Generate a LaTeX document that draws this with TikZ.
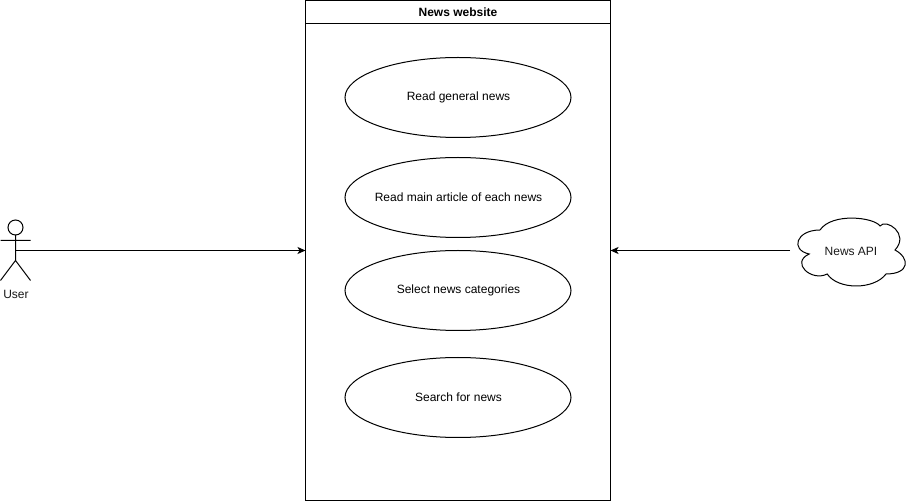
\documentclass[tikz,border=0pt]{standalone}
\usepackage{fontspec}
\setmainfont{Liberation Sans}
\usetikzlibrary{shapes.geometric,arrows.meta,positioning}
\tikzset{
  usecase/.style={draw,ellipse,minimum width=226pt,minimum height=80pt,inner sep=0pt,font=\fontsize{12pt}{14pt}\selectfont},
  ghost/.style={minimum width=#1,inner sep=0pt,outer sep=0pt},
  flow/.style={-{Stealth[length=8pt,width=7pt,inset=2pt]}},
  lbl/.style={font=\fontsize{12pt}{14pt}\selectfont,inner sep=0pt,text=black!90},
}
\newcommand{\uclabel}[1]{\raisebox{-1.4pt}{\hspace{1pt}\makebox[0pt]{#1}}}
\begin{document}
\begin{tikzpicture}[x=1pt,y=-1pt,line width=1pt]
\useasboundingbox[fill=white] (0,0) rectangle (911,502);
% system boundary
\node[draw,minimum width=305pt,minimum height=500pt,inner sep=0pt,outer sep=0pt,anchor=north west] (sys) at (305.5,0.5) {};
\node[draw,minimum width=305pt,minimum height=23pt,inner sep=0pt,outer sep=0pt,anchor=north west,font=\bfseries\fontsize{12pt}{14pt}\selectfont] (title) at (305.5,0.5) {News website};
% use cases
\node[usecase] (u1) at (458,97.5) {\uclabel{Read general news}};
\node[usecase] (u2) at (458,197.5) {\uclabel{Read main article of each news}};
\node[usecase] (u3) at (458,290.5) {\uclabel{Select news categories}};
\node[usecase] (u4) at (458,397.5) {\uclabel{Search for news}};
% actor
\node[draw,circle,minimum size=15pt,inner sep=0pt,outer sep=0pt] (head) at (15.5,227.5) {};
\coordinate (hip) at (15.5,260.5);
\coordinate (armL) at (0.5,240.5);
\coordinate (armR) at (30.5,240.5);
\coordinate (footL) at (0.5,280.5);
\coordinate (footR) at (30.5,280.5);
\coordinate (actor) at (15.5,250.5);
\draw (head.south) -- (hip) (armL) -- (armR) (footL) -- (hip) -- (footR);
\node[lbl] (user) at (16,294) {User};
% cloud
\coordinate (cl) at (790,210);
\begin{scope}[shift={(cl)},x=120pt,y=-80pt]
\draw[line width=1pt] (0.25,0.25)
 .. controls (0.05,0.25) and (0,0.5) .. (0.16,0.55)
 .. controls (0,0.66) and (0.18,0.9) .. (0.31,0.8)
 .. controls (0.4,1) and (0.7,1) .. (0.8,0.8)
 .. controls (1,0.8) and (1,0.6) .. (0.875,0.5)
 .. controls (1,0.3) and (0.8,0.1) .. (0.75,0.2)
 .. controls (0.7,0.09) and (0.35,0.03) .. (0.25,0.25) -- cycle;
\end{scope}
\node[ghost=120pt,minimum height=80pt] (cloud) at (850,250.5) {};
\node[lbl] (api) at (851,251) {News API};
% connectors
\draw[flow] (actor) -- (sys.west |- actor);
\draw[flow] (cloud.west) -- (sys.east |- cloud.west);
\end{tikzpicture}
\end{document}
